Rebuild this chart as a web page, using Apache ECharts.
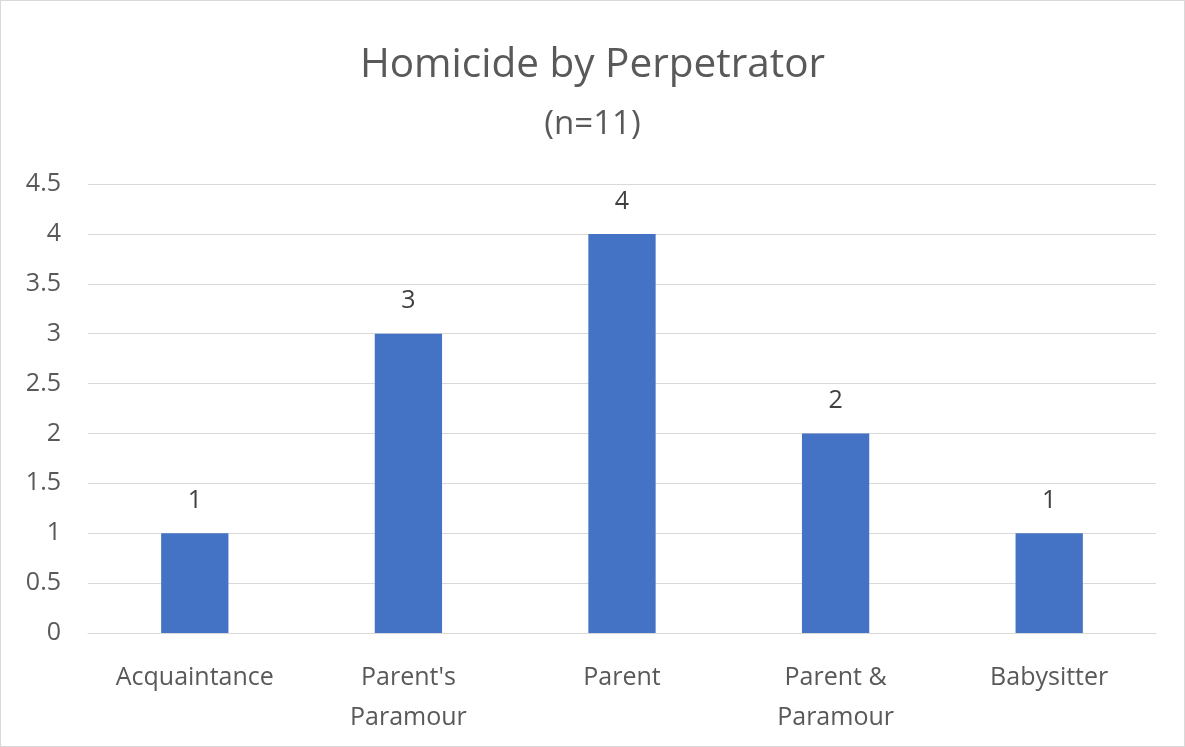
<!DOCTYPE html>
<html>
<head>
<meta charset="utf-8">
<script src="https://cdn.jsdelivr.net/npm/echarts@6/dist/echarts.min.js"></script>
<style>
html,body{margin:0;padding:0;background:#fff;}
#c{position:absolute;left:0;top:0;width:1183px;height:745px;border:1px solid #d9d9d9;}
</style>
</head>
<body>
<div id="c"></div>
<script>
const categories = ["Acquaintance", "Parent's\nParamour", "Parent", "Parent &\nParamour", "Babysitter"];
const values = [1, 3, 4, 2, 1];
const yTicks = { min: 0, max: 4.5, interval: 0.5 };

const chart = echarts.init(document.getElementById('c'));
const font = "'Open Sans', 'Noto Sans', sans-serif";
chart.setOption({
  animation: false,
  title: {
    text: 'Homicide by Perpetrator',
    subtext: '(n=11)',
    left: 'center',
    top: 39,
    itemGap: 22,
    textStyle: { fontFamily: font, fontSize: 40.5, lineHeight: 40, fontWeight: 'normal', color: '#595959' },
    subtextStyle: { fontFamily: font, fontSize: 33, lineHeight: 33, color: '#595959' }
  },
  grid: { left: 87, right: 28, top: 183, bottom: 113 },
  xAxis: {
    type: 'category',
    data: categories,
    axisLine: { lineStyle: { color: '#d9d9d9', width: 1 } },
    axisTick: { show: false },
    axisLabel: { fontFamily: font, fontSize: 25, color: '#595959', margin: 25, lineHeight: 40 }
  },
  yAxis: {
    type: 'value',
    min: yTicks.min, max: yTicks.max, interval: yTicks.interval,
    axisLine: { show: false },
    axisTick: { show: false },
    splitLine: { lineStyle: { color: '#d9d9d9', width: 1 } },
    axisLabel: { fontFamily: font, fontSize: 25, color: '#595959', margin: 27 }
  },
  series: [{
    type: 'bar',
    data: values,
    barWidth: '31.5%',
    itemStyle: { color: '#4472c4' },
    label: { show: true, position: 'top', distance: 20, fontFamily: font, fontSize: 25, color: '#404040' }
  }]
});
</script>
</body>
</html>
